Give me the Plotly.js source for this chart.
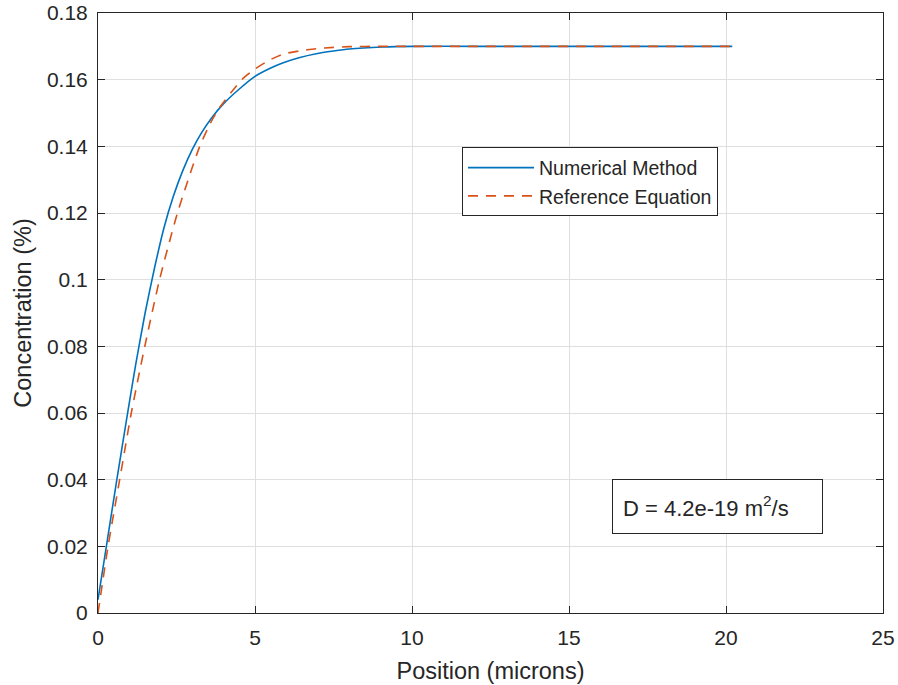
<!DOCTYPE html>
<html>
<head>
<meta charset="utf-8">
<script src="https://cdn.plot.ly/plotly-3.0.1.min.js"></script>
<style>html,body{margin:0;padding:0;background:#fff;}#chart{width:898px;height:685px;}</style>
</head>
<body>
<div id="chart"></div>
<script>
// Numerical Method (blue, solid)
const numX = [0, 0.3, 0.6, 0.9, 1.2, 1.5, 1.8, 2.1, 2.4, 2.7, 3.0, 3.3, 3.6, 4.0, 4.5, 5.0, 5.45, 5.9, 6.4, 6.95, 7.5, 8.0, 9.06, 10, 12, 14, 16, 18, 20.2];
const numY = [0.004, 0.022, 0.040, 0.0575, 0.0745, 0.090, 0.1035, 0.1155, 0.125, 0.1327, 0.139, 0.1441, 0.1483, 0.1528, 0.1572, 0.161, 0.1633, 0.1651, 0.1666, 0.1678, 0.1686, 0.1692, 0.1698, 0.170, 0.170, 0.170, 0.170, 0.170, 0.170];
// Reference Equation (red, dashed)
const refX = [0, 0.32, 0.69, 1.06, 1.49, 1.96, 2.53, 3.24, 3.61, 3.9, 4.58, 5.0, 5.45, 5.9, 6.4, 6.95, 7.5, 8.0, 9.0, 10, 12, 14, 16, 18, 20.2];
const refY = [0, 0.02, 0.04, 0.06, 0.08, 0.10, 0.12, 0.14, 0.1475, 0.152, 0.160, 0.1632, 0.1658, 0.1677, 0.1686, 0.1693, 0.1697, 0.1699, 0.170, 0.170, 0.170, 0.170, 0.170, 0.170, 0.170];

const seriesNames = ["Numerical Method", "Reference Equation"];
const xTickVals = [0, 5, 10, 15, 20, 25];
const xTickText = ["0", "5", "10", "15", "20", "25"];
const yTickVals = [0, 0.02, 0.04, 0.06, 0.08, 0.1, 0.12, 0.14, 0.16, 0.18];
const yTickText = ["0", "0.02", "0.04", "0.06", "0.08", "0.1", "0.12", "0.14", "0.16", "0.18"];
const noteText = "D = 4.2e-19 m<sup>2</sup>/s";

const FONT = "Liberation Sans, Arial, Helvetica, sans-serif";
const DARK = "#262626";

const traces = [
  {x: numX, y: numY, name: seriesNames[0], mode: "lines",
   line: {color: "#0072BD", width: 1.6, shape: "spline", smoothing: 0.6}},
  {x: refX, y: refY, name: seriesNames[1], mode: "lines",
   line: {color: "#D95319", width: 1.6, dash: "10px,8px", shape: "spline", smoothing: 0.6}}
];

const axisCommon = {
  showline: true, linecolor: DARK, linewidth: 1, mirror: "ticks",
  ticks: "inside", ticklen: 7, tickcolor: DARK, tickwidth: 1,
  showgrid: true, gridcolor: "#dfdfdf", gridwidth: 1, zeroline: false,
  tickfont: {family: FONT, size: 21, color: DARK}
};

const layout = {
  width: 898, height: 685,
  margin: {l: 98, r: 15, t: 13, b: 72},
  paper_bgcolor: "#fff", plot_bgcolor: "#fff",
  font: {family: FONT, color: DARK},
  xaxis: Object.assign({}, axisCommon, {
    range: [0, 25], tickvals: xTickVals, ticktext: xTickText, ticklabelstandoff: 6,
    title: {text: "Position (microns)", font: {family: FONT, size: 23.5, color: DARK}, standoff: 14}
  }),
  yaxis: Object.assign({}, axisCommon, {
    range: [0, 0.18], tickvals: yTickVals, ticktext: yTickText, ticklabelstandoff: 5,
    title: {text: "Concentration (%)", font: {family: FONT, size: 23.5, color: DARK}, standoff: 8}
  }),
  showlegend: true,
  legend: {
    x: 0.4637, y: 0.776, xanchor: "left", yanchor: "top",
    bgcolor: "#fff", bordercolor: DARK, borderwidth: 1,
    font: {family: FONT, size: 19.5, color: DARK},
    itemwidth: 66, tracegroupgap: 0
  },
  annotations: [{
    xref: "paper", yref: "paper", x: 0.6548, y: 0.224,
    xanchor: "left", yanchor: "top",
    text: noteText, showarrow: false, align: "left",
    font: {family: FONT, size: 22, color: DARK},
    bordercolor: DARK, borderwidth: 1, borderpad: 10,
    bgcolor: "#fff", width: 189, height: 33
  }]
};

Plotly.newPlot("chart", traces, layout, {displayModeBar: false, staticPlot: true});
</script>
</body>
</html>
